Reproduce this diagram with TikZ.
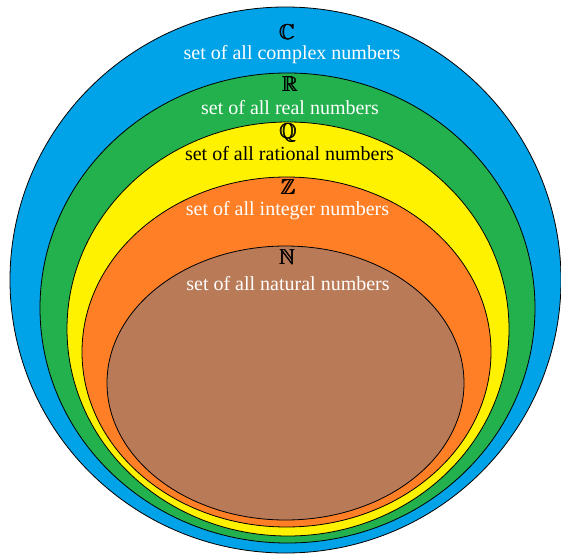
\documentclass[tikz,border=0pt]{standalone}
\usepackage{amssymb}
\usepackage{fontspec}
\setmainfont{Liberation Serif}
\usetikzlibrary{shapes.geometric}
\definecolor{cblue}{RGB}{0,162,232}
\definecolor{cgreen}{RGB}{34,177,76}
\definecolor{cyellow}{RGB}{255,242,0}
\definecolor{corange}{RGB}{255,127,39}
\definecolor{cbrown}{RGB}{185,122,87}
\newcommand{\heavybb}[1]{\rlap{$\mathbb{#1}$}\kern0.45pt\rlap{$\mathbb{#1}$}\kern0.45pt$\mathbb{#1}$}
\begin{document}
\begin{tikzpicture}[x=1pt,y=-1pt,
  setell/.style={ellipse, draw=black, line width=0.8pt, inner sep=0pt},
  lbl/.style={font=\fontsize{20}{22}\selectfont, inner sep=0pt, anchor=base},
  sym/.style={font=\fontsize{21.5}{24}\selectfont, inner sep=0pt, anchor=base, text=black}]
\useasboundingbox (0,0) rectangle (561,554);
\node[setell, fill=cblue,   minimum width=551pt, minimum height=546pt] (eC) at (285.5,280) {};
\node[setell, fill=cgreen,  minimum width=495pt, minimum height=470pt] (eR) at (287.5,308) {};
\node[setell, fill=cyellow, minimum width=442pt, minimum height=414pt] (eQ) at (288,329) {};
\node[setell, fill=corange, minimum width=409pt, minimum height=350pt] (eZ) at (286.5,352) {};
\node[setell, fill=cbrown,  minimum width=357pt, minimum height=274pt] (eN) at (285.5,383) {};
\node[sym] (sC) at (287,39) {\heavybb{C}};
\node[lbl, text=white] (tC) at (292,59) {set of all complex numbers};
\node[sym] (sR) at (290,91.5) {\heavybb{R}};
\node[lbl, text=white] (tR) at (290,114) {set of all real numbers};
\node[sym] (sQ) at (288,138) {\heavybb{Q}};
\node[lbl, text=black] (tQ) at (289.5,160) {set of all rational numbers};
\node[sym] (sZ) at (288,194) {\heavybb{Z}};
\node[lbl, text=white] (tZ) at (287.5,215) {set of all integer numbers};
\node[sym] (sN) at (287,264) {\heavybb{N}};
\node[lbl, text=white] (tN) at (288,290) {set of all natural numbers};
\end{tikzpicture}
\end{document}
